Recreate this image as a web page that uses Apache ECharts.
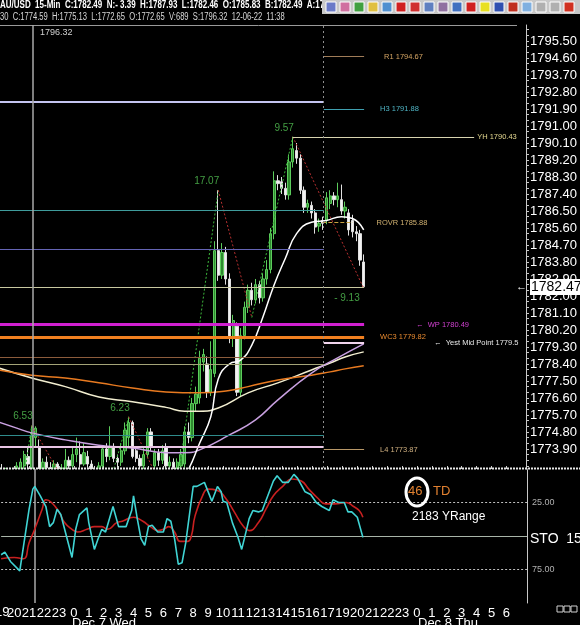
<!DOCTYPE html>
<html>
<head>
<meta charset="utf-8">
<script src="https://cdn.jsdelivr.net/npm/echarts@6/dist/echarts.min.js"></script>
<style>
  html, body { margin: 0; padding: 0; background: #000; }
  #chart { width: 580px; height: 625px; }
</style>
</head>
<body>
<div id="chart"></div>
<script>
// hour labels, one per 4 bars of 15 min (18h is the daily break)
const hours = ['19','20','21','22','23','0','1','2','3','4','5','6','7','8','9','10','11','12','13','14','15','16','17',
  '19','20','21','22','23','0','1','2','3','4','5','6','',''];
const barCount = 142;

// 15-min candles [open, close, low, high]
const candles = [
  [1772.5, 1772.8, 1772.2, 1773.0], [1772.8, 1772.4, 1772.2, 1773.1], [1772.4, 1772.7, 1772.1, 1772.9],
  [1772.7, 1772.3, 1772.0, 1772.9], [1772.3, 1772.6, 1772.0, 1772.8], [1772.6, 1773.0, 1772.4, 1773.2],
  [1772.7, 1773.2, 1772.4, 1773.4], [1773.0, 1773.6, 1772.6, 1773.8], [1773.5, 1773.1, 1772.8, 1774.0],
  [1772.65, 1774.59, 1772.65, 1775.13], [1774.5, 1775.0, 1774.0, 1775.1], [1774.0, 1772.8, 1772.6, 1774.4],
  [1772.8, 1773.2, 1772.5, 1773.4], [1773.2, 1772.9, 1772.6, 1773.5], [1772.9, 1772.7, 1772.3, 1773.2],
  [1772.7, 1773.1, 1772.5, 1773.3], [1773.1, 1772.6, 1772.3, 1773.2], [1772.6, 1772.9, 1772.3, 1773.1],
  [1772.9, 1773.3, 1772.7, 1773.9], [1773.3, 1773.0, 1772.8, 1773.5], [1773.0, 1773.6, 1772.7, 1774.0],
  [1773.6, 1773.9, 1773.2, 1774.5], [1773.6, 1773.1, 1772.9, 1774.3], [1773.1, 1773.7, 1773.0, 1774.2],
  [1773.5, 1773.1, 1772.9, 1773.8], [1773.1, 1772.8, 1772.5, 1773.3], [1772.8, 1772.6, 1772.3, 1773.0],
  [1772.6, 1773.0, 1772.4, 1773.2], [1773.0, 1773.9, 1772.8, 1774.1], [1773.9, 1773.5, 1773.2, 1774.2],
  [1773.5, 1774.0, 1773.3, 1775.1], [1774.0, 1773.4, 1773.2, 1774.2], [1773.4, 1773.2, 1772.9, 1773.6],
  [1773.2, 1773.8, 1773.0, 1774.2], [1773.8, 1774.9, 1773.6, 1775.3], [1774.5, 1775.3, 1774.0, 1775.6],
  [1775.3, 1773.5, 1773.4, 1775.4], [1773.8, 1773.4, 1773.2, 1774.0], [1773.4, 1773.0, 1772.8, 1773.6],
  [1773.0, 1773.6, 1772.8, 1774.0], [1773.6, 1774.8, 1773.4, 1775.0], [1774.8, 1774.0, 1773.8, 1775.0],
  [1773.0, 1773.7, 1772.8, 1773.9], [1773.7, 1773.3, 1773.0, 1773.9], [1773.3, 1773.8, 1773.1, 1774.1],
  [1774.0, 1773.0, 1772.8, 1774.2], [1773.0, 1773.2, 1772.7, 1773.5], [1773.2, 1772.9, 1772.6, 1773.4],
  [1772.8, 1773.2, 1772.6, 1773.4], [1773.0, 1773.6, 1772.7, 1773.9], [1773.1, 1774.8, 1772.9, 1775.1],
  [1774.8, 1774.5, 1774.2, 1775.3], [1774.5, 1776.3, 1774.3, 1776.6], [1776.3, 1776.8, 1775.9, 1777.2],
  [1776.6, 1778.7, 1776.3, 1779.1], [1778.5, 1778.9, 1778.0, 1779.2], [1778.4, 1776.9, 1776.6, 1778.8],
  [1776.9, 1778.1, 1776.7, 1779.6], [1777.9, 1784.4, 1777.7, 1784.9], [1784.4, 1783.1, 1782.8, 1787.6],
  [1783.1, 1784.3, 1782.9, 1784.8], [1784.3, 1782.9, 1782.6, 1784.6], [1782.9, 1779.8, 1779.5, 1783.2],
  [1779.8, 1780.7, 1779.3, 1781.0], [1780.4, 1776.9, 1776.7, 1780.6], [1776.9, 1779.9, 1776.7, 1780.3],
  [1779.9, 1781.4, 1779.7, 1781.7], [1781.4, 1782.3, 1781.1, 1782.6], [1782.3, 1781.8, 1781.5, 1782.7],
  [1781.8, 1782.6, 1781.6, 1782.9], [1782.6, 1781.9, 1781.6, 1782.8], [1781.9, 1782.9, 1781.7, 1783.2],
  [1782.9, 1783.4, 1782.6, 1783.9], [1783.4, 1785.3, 1783.2, 1785.6], [1785.3, 1788.1, 1785.0, 1788.6],
  [1788.1, 1787.95, 1787.6, 1788.4], [1788.05, 1787.7, 1787.4, 1788.3], [1787.7, 1787.35, 1787.1, 1788.0],
  [1787.35, 1789.1, 1787.1, 1789.5], [1789.1, 1789.8, 1788.8, 1790.43], [1789.7, 1789.3, 1789.0, 1790.1],
  [1789.3, 1787.6, 1787.4, 1789.5], [1787.6, 1786.7, 1786.4, 1787.8], [1786.7, 1786.9, 1786.4, 1787.1],
  [1786.8, 1786.4, 1786.1, 1787.0], [1786.4, 1785.65, 1785.3, 1786.6], [1785.7, 1785.85, 1785.4, 1786.1],
  [1786.0, 1785.85, 1785.5, 1786.2], [1786.0, 1787.2, 1785.8, 1787.5], [1786.9, 1787.3, 1786.6, 1787.6],
  [1787.3, 1787.1, 1786.8, 1787.5], [1787.1, 1787.3, 1786.7, 1788.0], [1787.1, 1786.5, 1786.3, 1787.9],
  [1786.5, 1786.7, 1786.1, 1787.0], [1786.4, 1785.5, 1785.2, 1786.6], [1786.0, 1785.4, 1785.1, 1786.3],
  [1785.4, 1785.3, 1784.9, 1785.7], [1785.3, 1783.9, 1783.6, 1785.5], [1783.8, 1782.49, 1782.46, 1784.2]
];

// moving averages, read at bar positions
const maFastIdx = [48, 51, 54, 57, 59, 62, 65, 68, 71, 74, 77, 80, 84, 88, 92, 95, 98];
const maFastVal = [1771.8, 1772.8, 1774.2, 1775.6, 1777.6, 1778.4, 1778.6, 1779.4, 1780.9, 1782.6, 1784.0, 1785.3, 1785.9, 1786.0, 1786.2, 1786.1, 1785.5];
const maSlowIdx = [0, 9, 18, 27, 36, 45, 50, 54, 59, 67, 75, 84, 89, 93, 98];
const maSlowVal = [1778.2, 1777.66, 1777.2, 1776.65, 1776.4, 1776.1, 1775.9, 1775.9, 1776.07, 1776.87, 1777.4, 1778.08, 1778.45, 1778.77, 1779.04];
const maOrangeIdx = [0, 9, 18, 27, 36, 45, 54, 62, 67, 75, 84, 89, 93, 98];
const maOrangeVal = [1778.08, 1777.8, 1777.66, 1777.4, 1777.13, 1776.92, 1776.87, 1777.0, 1777.2, 1777.55, 1777.8, 1777.98, 1778.14, 1778.3];
const maVioletIdx = [0, 5, 9, 18, 27, 36, 45, 50, 54, 62, 69, 75, 84, 91, 98];
const maVioletVal = [1775.33, 1775.0, 1774.75, 1774.38, 1774.1, 1773.95, 1773.7, 1773.7, 1773.85, 1774.64, 1775.44, 1776.5, 1777.92, 1778.72, 1779.46];

// swing zigzag
const zigIdx = [4, 9, 26, 35, 47, 59, 68, 79, 98];
const zigVal = [1768.6, 1775.13, 1769.4, 1775.6, 1770.53, 1787.6, 1780.86, 1790.43, 1782.4];
const zigText = ['', '6.53', '', '6.23', '', '17.07', '', '9.57', '- 9.13'];

// pivot levels
const pivotNames = ['R1', 'H3', 'YH', 'ROVR', 'WP', 'WC3', 'Yest Mid Point', 'L4'];
const pivotValues = [1794.67, 1791.88, 1790.43, 1785.88, 1780.49, 1779.82, 1779.5, 1773.87];
const plainLevels = [1792.27, 1786.55, 1784.49, 1782.47, 1778.77, 1778.40, 1774.64, 1774.0];

// stochastic
const stoKIdx = [0.5, 1.5, 3, 5.5, 8, 9, 9.5, 11, 12.5, 13.5, 14.5, 15.5, 16.5, 18, 19.5, 20.5, 21.5, 23.5, 24, 25.5, 26.5, 27.5, 28.5, 30.5, 32, 34, 35.5, 36, 37, 38, 39, 40, 41, 42.5, 44, 45, 46, 47, 48, 49, 50, 52, 53, 55, 57, 58.5, 59.5, 60, 61, 62.5, 64, 65, 66.5, 67, 68, 69.5, 70.5, 72, 73.5, 74.5, 76, 77.5, 79, 80, 82, 83.5, 85, 86.5, 88.5, 89.5, 91, 92.5, 93.5, 94.5, 96, 97.5];
const stoKVal = [64, 62, 69, 76, 30, 15, 13, 20, 28, 43, 40, 30, 34, 50, 66, 45, 34, 29, 40, 60, 52, 45, 47, 28, 43, 43, 31, 20, 37, 52, 57, 43, 42, 47, 47, 37, 39, 52, 71, 70, 55, 13, 13, 10, 24, 13, 17, 24, 25, 40, 51, 60, 43, 37, 31, 32, 31, 20, 9, 5, 10, 10, 4, 7, 17, 19, 25, 28, 31, 23, 25, 25, 32, 32, 36, 51];
const stoDIdx = [0.5, 4, 6.5, 8, 9.5, 11.5, 12.5, 14, 16, 17.5, 19.5, 21, 23.5, 25.5, 27.5, 29, 31.5, 33, 36, 38.5, 40.5, 42.5, 44, 45.5, 47, 48.5, 50.5, 51.5, 52.5, 54.5, 56, 58.5, 60.5, 63, 65.5, 67, 69.5, 71.5, 73.5, 76, 78.5, 81, 83, 85.5, 87.5, 90, 93, 95, 96.5, 97.5];
const stoDVal = [67, 66, 67, 55, 45, 30, 23, 25, 32, 40, 45, 47, 45, 43, 43, 45, 40, 39, 36, 39, 43, 46, 45, 43, 47, 54, 54, 50, 35, 20, 15, 16, 21, 32, 43, 46, 40, 30, 20, 13, 7.5, 9, 15, 22, 26, 26, 25, 28, 31, 36];

const priceTicks = [1773.9, 1774.8, 1775.7, 1776.6, 1777.5, 1778.4, 1779.3, 1780.2, 1781.1, 1782.0, 1782.9, 1783.8,
  1784.7, 1785.6, 1786.5, 1787.4, 1788.3, 1789.2, 1790.1, 1791.0, 1791.9, 1792.8, 1793.7, 1794.6, 1795.5];

const FONT = '"Liberation Sans", Arial, sans-serif';
const pairs = (xs, ys) => xs.map((x, i) => [x, ys[i]]);
const categories = [];
for (let i = 0; i < barCount; i++) categories.push('b' + i);
const hourOf = v => { const i = +String(v).slice(1); return i % 4 === 0 ? hours[i / 4] || '' : ''; };
const X0 = 0.5, X1 = barCount - 0.5;   // first bar is just off the left edge

const minorTicks = [];
priceTicks.forEach(v => { minorTicks.push(v, +(v + 0.3).toFixed(2), +(v + 0.6).toFixed(2)); });
minorTicks.unshift(1773.0, 1773.3, 1773.6);

const pivotStyle = {
  'R1': { x0: 87.3, x1: 98.1, color: '#a07c58', label: '#d4a463', gap: 20 },
  'H3': { x0: 87.3, x1: 98.1, color: '#3fa0b0', label: '#4fb4c4', gap: 16 },
  'YH': { x0: 78.9, x1: 127.6, color: '#d8d4b0', label: '#e4d890', gap: 3 },
  'ROVR': { x0: 86.9, x1: 95.0, color: '#c8a040', label: '#d0b070', gap: 24, type: 'dashed' },
  'WP': { x0: X0, x1: 98.1, color: '#d020d0', label: '#d040d0', gap: 52, width: 3, arrow: true },
  'WC3': { x0: X0, x1: 98.1, color: '#f08020', label: '#e88a30', gap: 16, width: 3 },
  'Yest Mid Point': { x0: 87.3, x1: 98.1, color: '#f0d4ec', label: '#e8e8e8', gap: 70, width: 2, arrow: true },
  'L4': { x0: 87.3, x1: 98.1, color: '#b89868', label: '#d0b080', gap: 16 }
};
const plainStyle = [
  { color: '#c4c4f0', width: 2, x1: 87.3 },
  { color: '#3f9c9c', width: 1, x1: 87.3 },
  { color: '#6464b4', width: 1, x1: 87.3 },
  { color: '#c8c8a0', width: 1, x1: 98.1 },
  { color: '#8c5c3c', width: 1, x1: 87.3 },
  { color: '#a4a478', width: 1, x1: 87.3 },
  { color: '#2f8c8c', width: 1, x1: 87.3 },
  { color: '#e8c4e4', width: 2, x1: 87.3 }
];

const levelLines = [];
plainLevels.forEach((v, i) => {
  const s = plainStyle[i];
  levelLines.push([
    { coord: [X0, v], lineStyle: { color: s.color, width: s.width, type: 'solid' }, label: { show: false } },
    { coord: [s.x1, v] }
  ]);
});
pivotNames.forEach((n, i) => {
  const s = pivotStyle[n];
  const v = pivotValues[i];
  const txt = (s.arrow ? '\u2190  ' : '') + n + ' ' + (n === 'Yest Mid Point' ? v.toFixed(1) : v.toFixed(2));
  levelLines.push([
    { coord: [s.x0, v], lineStyle: { color: s.color, width: s.width || 1, type: s.type || 'solid' },
      label: { show: true, position: 'end', distance: s.gap, formatter: txt, color: s.label, fontSize: 7.5, fontFamily: FONT } },
    { coord: [s.x1, v] }
  ]);
});

const zigSeries = [];
for (let i = 0; i < zigIdx.length - 1; i++) {
  const up = zigVal[i + 1] > zigVal[i];
  zigSeries.push({
    type: 'line', xAxisIndex: 1, yAxisIndex: 0, silent: true, symbol: 'none', z: 3,
    lineStyle: { color: up ? '#3cb83c' : '#b83030', width: 1, type: [2, 2] },
    data: [[zigIdx[i], zigVal[i]], [zigIdx[i + 1], zigVal[i + 1]]]
  });
}
const zigLabels = [];
zigIdx.forEach((x, i) => { if (zigText[i]) zigLabels.push({ value: [x, zigVal[i]], name: zigText[i] }); });

const maLine = (idx, val, color, width) => ({
  type: 'line', xAxisIndex: 1, yAxisIndex: 0, smooth: true, symbol: 'none', silent: true, z: 4,
  lineStyle: { color: color, width: width },
  data: pairs(idx, val)
});

const icons = ['#6a7ac8', '#d070a0', '#40a040', '#e0c040', '#5090d0', '#d02020', '#d03030', '#6080c0',
  '#9070a0', '#4070c0', '#d02020', '#e8e020', '#3050b0', '#c03020', '#80b0e0', '#b0b0b0', '#b0b0b0', '#d03020'];
const iconGraphics = icons.map((c, i) => ({
  type: 'rect', shape: { x: 326 + i * 14, y: 2, width: 10, height: 10 },
  style: { fill: c, stroke: '#ffffff', lineWidth: 1 }
}));

const option = {
  backgroundColor: '#000000',
  animation: false,
  grid: [
    { left: 0, right: 53, top: 25, height: 443 },
    { left: 0, right: 53, top: 469, height: 134 }
  ],
  xAxis: [
    { type: 'category', gridIndex: 0, data: categories, min: 1, boundaryGap: true, show: false },
    { type: 'value', gridIndex: 0, min: X0, max: X1, show: false },
    { type: 'category', gridIndex: 1, data: categories, min: 1, boundaryGap: true,
      axisLine: { show: true, lineStyle: { color: '#505050' } },
      axisTick: { show: true, inside: true, length: 3, alignWithLabel: true, interval: (i, v) => hourOf(v) !== '', lineStyle: { color: '#d0d0d0' } },
      axisLabel: { interval: 0, margin: 4, color: '#ffffff', fontSize: 13, fontFamily: FONT, formatter: v => hourOf(v) },
      splitLine: { show: false } },
    { type: 'value', gridIndex: 1, min: X0, max: X1, show: false }
  ],
  yAxis: [
    { type: 'value', gridIndex: 0, position: 'right', min: 1772.89, max: 1796.35,
      axisLine: { show: true, lineStyle: { color: '#c8c8c8' } },
      axisTick: { show: true, length: 3, customValues: minorTicks, lineStyle: { color: '#c8c8c8' } },
      axisLabel: { customValues: priceTicks, margin: 4, color: '#ffffff', fontSize: 13, fontFamily: FONT, formatter: v => v.toFixed(2) },
      splitLine: { show: false } },
    { type: 'value', gridIndex: 1, position: 'right', min: 0, max: 100, inverse: true,
      axisLine: { show: true, lineStyle: { color: '#c8c8c8' } },
      axisTick: { show: false },
      axisLabel: { customValues: [25, 75], margin: 5, color: '#b0b0b0', fontSize: 9, fontFamily: FONT, formatter: v => v.toFixed(2) },
      splitLine: { show: false } }
  ],
  series: [
    {
      type: 'line', xAxisIndex: 1, yAxisIndex: 0, data: [], silent: true, z: 1,
      markLine: {
        silent: true, symbol: ['none', 'none'], animation: false,
        data: levelLines.concat([
          [{ coord: [87.2, 1772.89], lineStyle: { color: '#909090', width: 1, type: [2, 3] }, label: { show: false } }, { coord: [87.2, 1796.35] }],
          [{ coord: [9.4, 1772.89], lineStyle: { color: '#a8a8a8', width: 1.5, type: 'solid' }, label: { show: false } }, { coord: [9.4, 1796.35] }]
        ])
      }
    },
    {
      type: 'candlestick', xAxisIndex: 0, yAxisIndex: 0, data: candles, barWidth: '75%', z: 2,
      itemStyle: { color: '#2f8a2f', color0: '#f2f2f2', borderColor: '#5ccc5c', borderColor0: '#e0e0e0', borderWidth: 1 }
    },
    maLine(maSlowIdx, maSlowVal, '#f2eed0', 1.5),
    maLine(maOrangeIdx, maOrangeVal, '#e87a20', 1.5),
    maLine(maVioletIdx, maVioletVal, '#c8a0e0', 1.5),
    maLine(maFastIdx, maFastVal, '#ffffff', 1.5),
    ...zigSeries,
    {
      type: 'scatter', xAxisIndex: 1, yAxisIndex: 0, symbolSize: 0, silent: true, z: 6,
      data: zigLabels,
      label: {
        show: true, formatter: p => p.name, fontSize: 10, fontFamily: FONT,
        position: 'left', distance: 0,
        color: '#54c454'
      },
      labelLayout: p => (p.text.indexOf('-') === 0 ? { dy: 10, dx: -4 } : { dy: -9, dx: 1 })
    },
    {
      type: 'line', xAxisIndex: 3, yAxisIndex: 1, data: [], silent: true, z: 10,
      markLine: {
        silent: true, symbol: ['none', 'none'], animation: false, label: { show: false },
        data: [
          [{ coord: [X0, 25], lineStyle: { color: '#c0c0c0', width: 1, type: [2, 2] } }, { coord: [X1, 25] }],
          [{ coord: [X0, 50], lineStyle: { color: '#a8b4a8', width: 1, type: 'solid' } }, { coord: [X1, 50] }],
          [{ coord: [X0, 75], lineStyle: { color: '#c0c0c0', width: 1, type: [2, 2] } }, { coord: [X1, 75] }],
          [{ coord: [9.4, 0], lineStyle: { color: '#a8a8a8', width: 1.5, type: 'solid' } }, { coord: [9.4, 100] }]
        ]
      }
    },
    {
      type: 'line', xAxisIndex: 3, yAxisIndex: 1, smooth: true, symbol: 'none', silent: true, z: 10,
      lineStyle: { color: '#c82020', width: 1.6 }, data: pairs(stoDIdx, stoDVal)
    },
    {
      type: 'line', xAxisIndex: 3, yAxisIndex: 1, symbol: 'none', silent: true, z: 11,
      lineStyle: { color: '#40d4d4', width: 1.6 }, data: pairs(stoKIdx, stoKVal)
    }
  ],
  graphic: [
    // hides candle wicks that run past the bottom of the price panel
    { type: 'rect', z: 3, shape: { x: 0, y: 469, width: 526, height: 16 }, style: { fill: '#000000' } },
    { type: 'text', x: 0, y: 0, scaleX: 0.8, style: { text: 'AU/USD  15-Min  C:1782.49  N:- 3.39  H:1787.93  L:1782.46  O:1785.83  B:1782.49  A:178', fill: '#ffffff', font: 'bold 10px ' + FONT } },
    { type: 'rect', shape: { x: 322, y: 0, width: 258, height: 14 }, style: { fill: '#c8c8c8' } },
    ...iconGraphics,
    { type: 'text', x: 0, y: 12, scaleX: 0.76, style: { text: '30  C:1774.59  H:1775.13  L:1772.65  O:1772.65  V:689  S:1796.32  12-06-22  11:38', fill: '#d8d8d8', font: '10px ' + FONT } },
    { type: 'line', shape: { x1: 0, y1: 25.5, x2: 517, y2: 25.5 }, style: { stroke: '#9a9a9a', lineWidth: 1 } },
    { type: 'text', x: 40, y: 28, style: { text: '1796.32', fill: '#d0d0d0', font: '9px ' + FONT } },
    { type: 'line', z: 20, shape: { x1: 0, y1: 468.5, x2: 580, y2: 468.5 }, style: { stroke: '#e8e8e8', lineWidth: 2, lineDash: [2, 1] } },
    { type: 'text', x: -5, y: 606, style: { text: '19', fill: '#ffffff', font: '13px ' + FONT } },
    { type: 'text', x: 516, y: 281, style: { text: '\u2190', fill: '#ffffff', font: '11px ' + FONT } },
    { type: 'rect', shape: { x: 530, y: 279, width: 50, height: 16 }, style: { fill: '#ffffff' }, z: 100 },
    { type: 'text', x: 531, y: 280, z: 101, style: { text: '1782.47', fill: '#000000', font: '14px ' + FONT } },
    { type: 'text', x: 408, y: 485, z: 20, style: { text: '46', fill: '#e08030', font: '13px ' + FONT } },
    { type: 'ellipse', z: 21, shape: { cx: 417, cy: 492, rx: 11, ry: 14 }, style: { fill: 'none', stroke: '#ffffff', lineWidth: 3 } },
    { type: 'text', x: 433, y: 485, z: 20, style: { text: 'TD', fill: '#e08030', font: '13px ' + FONT } },
    { type: 'text', x: 412, y: 511, z: 20, style: { text: '2183 YRange', fill: '#ffffff', font: '12px ' + FONT } },
    { type: 'text', x: 530, y: 532, style: { text: 'STO  15,', fill: '#ffffff', font: '14px ' + FONT } },
    { type: 'text', x: 72, y: 617, style: { text: 'Dec 7 Wed', fill: '#ffffff', font: '13px ' + FONT } },
    { type: 'text', x: 418, y: 617, style: { text: 'Dec 8 Thu', fill: '#ffffff', font: '13px ' + FONT } },
    { type: 'rect', shape: { x: 557, y: 606, width: 6, height: 6 }, style: { fill: 'none', stroke: '#d0d0d0' } },
    { type: 'rect', shape: { x: 564, y: 606, width: 6, height: 6 }, style: { fill: 'none', stroke: '#d0d0d0' } },
    { type: 'rect', shape: { x: 571, y: 606, width: 6, height: 6 }, style: { fill: 'none', stroke: '#d0d0d0' } }
  ]
};

const chart = echarts.init(document.getElementById('chart'));
chart.setOption(option);
</script>
</body>
</html>
